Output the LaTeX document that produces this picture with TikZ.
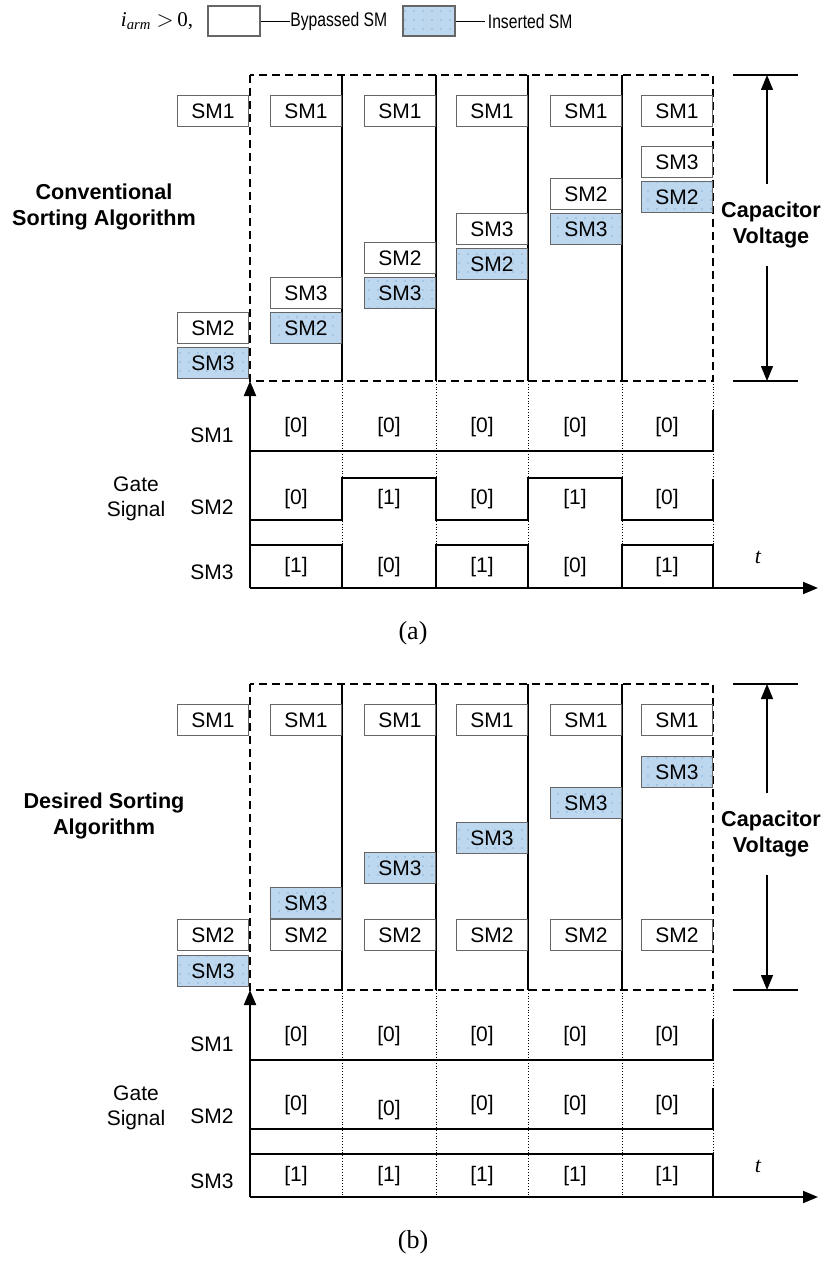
\documentclass[tikz,border=0pt]{standalone}
\usepackage{graphicx}
\usepackage{fontspec}
\setmainfont{Liberation Sans}
\newfontfamily\serfont{Liberation Serif}
\usetikzlibrary{arrows.meta, patterns.meta}

\definecolor{insblue}{RGB}{189,215,238}
\definecolor{dotblue}{RGB}{80,140,205}

\begin{document}
\begin{tikzpicture}[x=0.5pt, y=-0.5pt, >={Triangle[length=7.5pt, width=6pt]},
  font=\fontsize{10.5}{12.6}\selectfont,
  bypbox/.style={draw=black!60, line width=0.6pt, fill=white, minimum width=35.5pt,
                 minimum height=15.5pt, inner sep=0pt, anchor=north east},
  insbox/.style={bypbox, fill=insblue,
                 postaction={pattern={Dots[distance=4.5pt, radius=0.35pt]}, pattern color=dotblue}},
  title/.style={font=\fontsize{10.8}{13}\selectfont\bfseries, align=center},
  wave/.style={line width=1pt},
  divider/.style={line width=0.7pt},
  frame/.style={line width=0.7pt, dash pattern=on 4pt off 2.5pt}]

\useasboundingbox (0,0) rectangle (826,1262);

%-- legend
\node[font=\serfont\fontsize{10.5}{12}\selectfont] (iarm) at (157,21)
  {\itshape i\textsubscript{arm}\upshape\ $>$\,0,};
\node[bypbox, anchor=center, minimum width=26pt, minimum height=15pt] (legbyp) at (234,21) {};
\node[anchor=west, inner sep=0pt, font=\fontsize{9.8}{11}\selectfont] (legbyptxt) at (290,21)
  {\scalebox{0.8}[1]{Bypassed SM}};
\node[insbox, anchor=center, minimum width=26pt, minimum height=15pt] (legins) at (429,21) {};
\node[anchor=west, inner xsep=1.25pt, inner ysep=0pt, font=\fontsize{9.8}{11}\selectfont] (leginstxt) at (485,21)
  {\scalebox{0.8}[1]{Inserted SM}};
\draw (legbyp) -- (legbyptxt);
\draw (legins) -- (leginstxt);

%-- frame, axes and labels shared by both panels
\foreach \p/\dy in {a/0, b/609}{
\begin{scope}[shift={(0,\dy)}]
  \draw[frame] (250,75) rectangle (713,381);
  \foreach \x in {342,436,528,622}
    \draw[divider] (\x,75) -- (\x,381);
  \foreach \x in {342,436,528,622,713}
    \draw[densely dotted, thin] (\x,381) -- (\x,588);

  % capacitor voltage
  \coordinate (\p-vtop) at (767,75);
  \coordinate (\p-vbot) at (767,381);
  \draw[divider] ([xshift=-17pt]\p-vtop) -- ([xshift=15.5pt]\p-vtop);
  \draw[divider] ([xshift=-17pt]\p-vbot) -- ([xshift=15.5pt]\p-vbot);
  \node[title, inner ysep=8.5pt] (\p-cv) at (771,225) {Capacitor\\Voltage};
  \draw[divider, ->] (\p-cv.north -| \p-vtop) -- (\p-vtop);
  \draw[divider, ->] (\p-cv.south -| \p-vbot) -- (\p-vbot);

  % gate signal axes
  \coordinate (\p-o) at (250,588);
  \coordinate (\p-ytop) at (250,381);
  \coordinate (\p-xend) at (818,588);
  \draw[wave, ->] (\p-o) -- (\p-ytop);
  \draw[wave, ->] (\p-o) -- (\p-xend);
  \node (\p-r1) at (212,435) {SM1};
  \node (\p-r2) at (212,507) {SM2};
  \node (\p-r3) at (212,572) {SM3};
  \node[align=center] (\p-gate) at (136,499) {Gate\\Signal};
  \node[font=\serfont\itshape\fontsize{11}{13}\selectfont] (\p-t) at (758,557) {t};
  \node[font=\serfont\fontsize{13}{15}\selectfont] (\p-cap) at (413,633) {(\p)};
\end{scope}}

%-- (a) conventional sorting
\node[title] (a-title) at (104,207) {Conventional\\Sorting Algorithm};
\foreach \n/\x/\y/\s/\m in {
    0-1/249/95/bypbox/1,  0-2/249/312/bypbox/2, 0-3/249/347/insbox/3,
    1-1/342/95/bypbox/1,  1-3/342/277/bypbox/3, 1-2/342/312/insbox/2,
    2-1/436/95/bypbox/1,  2-2/436/242/bypbox/2, 2-3/436/277/insbox/3,
    3-1/528/95/bypbox/1,  3-3/528/213/bypbox/3, 3-2/528/248/insbox/2,
    4-1/622/95/bypbox/1,  4-2/622/178/bypbox/2, 4-3/622/213/insbox/3,
    5-1/713/95/bypbox/1,  5-3/713/146/bypbox/3, 5-2/713/181/insbox/2}
  \node[\s] (a-\n) at (\x,\y) {SM\m};

\draw[wave] (250,451) -- (713,451) -- (713,410);
\draw[wave] (250,520) -| (342,478) -| (436,520) -| (528,478) -| (622,520) -| (713,479);
\draw[wave] (250,545) -| (342,588) -| (436,545) -| (528,588) -| (622,545) -| (713,588);
\foreach \x/\u/\v/\w [count=\i] in {296/0/0/1, 389/0/1/0, 482/0/0/1, 575/0/1/0, 667/0/0/1}{
  \node (a-v1-\i) at (\x,427) {[\u]};
  \node (a-v2-\i) at (\x,499) {[\v]};
  \node (a-v3-\i) at (\x,567) {[\w]};
}

%-- (b) desired sorting
\begin{scope}[shift={(0,609)}]
\node[title] (b-title) at (104,207) {Desired Sorting\\Algorithm};
\foreach \n/\x/\y/\s/\m in {
    0-1/249/95/bypbox/1,  0-2/249/310/bypbox/2, 0-3/249/346/insbox/3,
    1-1/342/95/bypbox/1,  1-3/342/278/insbox/3, 1-2/342/310/bypbox/2,
    2-1/436/95/bypbox/1,  2-3/436/243/insbox/3, 2-2/436/310/bypbox/2,
    3-1/528/95/bypbox/1,  3-3/528/213/insbox/3, 3-2/528/310/bypbox/2,
    4-1/622/95/bypbox/1,  4-3/622/178/insbox/3, 4-2/622/310/bypbox/2,
    5-1/713/95/bypbox/1,  5-3/713/147/insbox/3, 5-2/713/310/bypbox/2}
  \node[\s] (b-\n) at (\x,\y) {SM\m};

\draw[wave] (250,451) -- (713,451) -- (713,410);
\draw[wave] (250,520) -- (713,520) -- (713,479);
\draw[wave] (250,545) -- (713,545) -- (713,588);
\foreach \x/\d [count=\i] in {296/0, 389/5, 482/0, 575/0, 667/0}{
  \node (b-v1-\i) at (\x,427) {[0]};
  \node (b-v2-\i) at (\x,496+\d) {[0]};
  \node (b-v3-\i) at (\x,567) {[1]};
}
\end{scope}

\end{tikzpicture}
\end{document}
